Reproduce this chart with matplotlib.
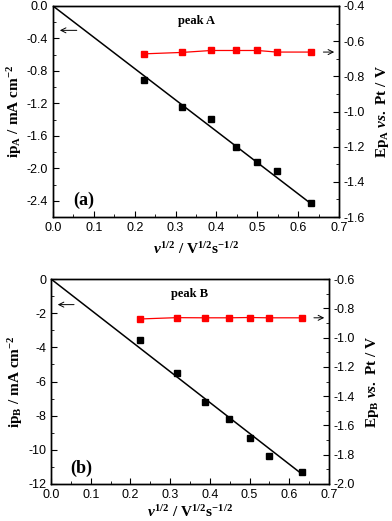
import numpy as np
import matplotlib
matplotlib.use('Agg')
from matplotlib import pyplot as plt
from matplotlib.ticker import MultipleLocator

plt.rcParams['font.family'] = 'Liberation Sans'
plt.rcParams['font.size'] = 9
plt.rcParams['mathtext.fontset'] = 'custom'
plt.rcParams['mathtext.rm'] = 'Liberation Serif:bold'
plt.rcParams['mathtext.bf'] = 'Liberation Serif:bold'
plt.rcParams['mathtext.it'] = 'Liberation Serif:italic:bold'

# square root of scan rate
sqrt_v = [0.2236, 0.3162, 0.3873, 0.4472, 0.5, 0.5477, 0.6325]

ip_a = [-0.91, -1.25, -1.39, -1.74, -1.92, -2.03, -2.43]
ep_a = [-0.672, -0.664, -0.653, -0.653, -0.653, -0.662, -0.662]
fit_a = [0.0, -2.44]

ip_b = [-3.59, -5.48, -7.18, -8.20, -9.31, -10.35, -11.30]
ep_b = [-0.873, -0.864, -0.865, -0.865, -0.863, -0.865, -0.865]
fit_b = [0.0, -11.43]
fit_x = [0.0, 0.6325]

W, H = 392, 521
fig = plt.figure(figsize=(W / 100, H / 100), dpi=100)


def box(l, t, r, b):
    return [l / W, 1 - b / H, (r - l) / W, (b - t) / H]


def style(ax):
    ax.tick_params(direction='in', which='both', labelsize=9, length=4)
    ax.tick_params(which='minor', length=2)
    for s in ax.spines.values():
        s.set_linewidth(1.0)


panels = [
    (box(53, 6, 339, 217), ip_a, ep_a, fit_a, (-2.6, 0.0), 0.4, 0.2, '{:.1f}',
     (-1.6, -0.4), 0.2, 0.1, 'A', '(a)', 'peak A', -0.3, 5),
    (box(51, 279, 329, 484), ip_b, ep_b, fit_b, (-12, 0), 2, 1, '{:.0f}',
     (-2.0, -0.6), 0.2, 0.1, 'B', '(b)', 'peak B', -1.5, 2),
]

for (rect, ip, ep, fit, ylim, ymaj, ymin, fmt, y2lim, y2maj, y2min,
     sub, tag, peak, arrow_y, xpad) in panels:
    ax = fig.add_axes(rect)
    ax.plot(fit_x, fit, color='black', lw=1.1)
    ax.plot(sqrt_v, ip, 's', color='black', ms=4.5)
    ax.set_xlim(0, 0.7)
    ax.set_ylim(*ylim)
    ax.xaxis.set_major_locator(MultipleLocator(0.1))
    ax.xaxis.set_minor_locator(MultipleLocator(0.05))
    ax.yaxis.set_major_locator(MultipleLocator(ymaj))
    ax.yaxis.set_minor_locator(MultipleLocator(ymin))
    ax.yaxis.set_major_formatter(matplotlib.ticker.FuncFormatter(
        lambda v, p, f=fmt: f.format(v) if abs(v) > 1e-9 else f.format(0.0)))
    ax.xaxis.set_major_formatter(matplotlib.ticker.FormatStrFormatter('%.1f'))
    style(ax)
    ax.set_ylabel(r'$\mathrm{ip_{%s}\ /\ mA\ cm^{-2}}$' % sub, fontsize=11, labelpad=2)
    ax.set_xlabel(r'$\mathit{\nu}^{\mathrm{1/2}}\mathrm{\ /\ V^{1/2}s^{-1/2}}$', fontsize=11,
                  labelpad=xpad)
    ax.text(0.07, 0.055, tag, transform=ax.transAxes, fontsize=13,
            fontweight='bold', family='Liberation Serif')
    ax.text(0.5, 0.955, peak, transform=ax.transAxes, fontsize=9, ha='center', va='top',
            fontweight='bold', family='Liberation Serif')
    ax.annotate('', xy=(0.01, arrow_y), xytext=(0.065, arrow_y),
                arrowprops=dict(arrowstyle='->', color='black', lw=0.7))

    ax2 = ax.twinx()
    ax2.plot(sqrt_v, ep, 's-', color='red', ms=3.8, lw=0.9)
    ax2.set_ylim(*y2lim)
    ax2.yaxis.set_major_locator(MultipleLocator(y2maj))
    ax2.yaxis.set_minor_locator(MultipleLocator(y2min))
    ax2.yaxis.set_major_formatter(matplotlib.ticker.FormatStrFormatter('%.1f'))
    style(ax2)
    ax2.set_ylabel(r'$\mathrm{Ep_{%s}}\ \mathit{vs.}\ \mathrm{Pt\ /\ V}$' % sub,
                   fontsize=11, rotation=90, labelpad=6)
    ax2.annotate('', xy=(0.695, np.mean(ep[-2:])), xytext=(0.655, np.mean(ep[-2:])),
                 arrowprops=dict(arrowstyle='->', color='black', lw=0.7))

fig.savefig('out.png', dpi=100)
